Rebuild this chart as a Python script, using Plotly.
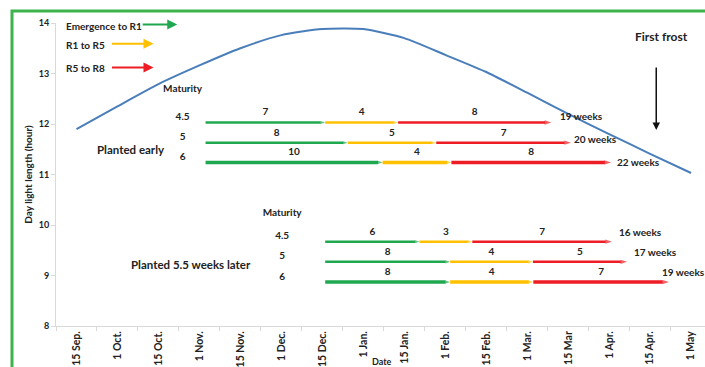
import plotly.graph_objects as go

# ---------------- data ----------------
dates = ["15 Sep.", "1 Oct.", "15 Oct.", "1 Nov.", "15 Nov.", "1 Dec.", "15 Dec.",
         "1 Jan.", "15 Jan.", "1 Feb.", "15 Feb.", "1 Mar.", "15 Mar", "1 Apr.",
         "15 Apr.", "1 May"]
day_length = [11.90, 12.35, 12.79, 13.16, 13.50, 13.76, 13.88, 13.88, 13.70,
              13.37, 13.03, 12.62, 12.20, 11.80, 11.41, 11.03]

maturity = ["4.5", "5", "6"]
stages = ["Emergence to R1", "R1 to R5", "R5 to R8"]

# stage boundaries on the date axis (category units, 0 = 15 Sep.)
early_row_y = [12.03, 11.63, 11.24]
early_bounds = [[3.15, 6.07, 7.85, 11.59],
                [3.15, 6.62, 8.78, 12.07],
                [3.15, 7.47, 9.15, 13.05]]
early_weeks = [[7, 4, 8], [8, 5, 7], [10, 4, 8]]
early_total = ["19 weeks", "20 weeks", "22 weeks"]

late_row_y = [9.67, 9.27, 8.87]
late_bounds = [[6.07, 8.37, 9.66, 13.07],
               [6.07, 9.12, 11.14, 13.44],
               [6.07, 9.12, 11.15, 14.46]]
late_weeks = [[6, 3, 7], [8, 4, 5], [8, 4, 7]]
late_total = ["16 weeks", "17 weeks", "19 weeks"]

# ---------------- style ----------------
FONT = "Lato, Liberation Sans Narrow, sans-serif"
stage_colors = ["#1fa84f", "#ffc000", "#ee1c24"]
row_widths = [2.5, 2.5, 3.5]
AXIS_GREY = "#d9d9d9"
TXT = "#222222"
# placement of the "N weeks" labels relative to the end of each row (x in categories, y in hours)
early_total_shift = [(0.17, 0.12), (0.03, 0.08), (0.10, 0.0)]
late_total_shift = [(0.12, 0.2), (0.12, 0.2), (-0.22, 0.2)]

fig = go.Figure()

fig.add_trace(go.Scatter(
    x=list(range(len(dates))), y=day_length, mode="lines",
    line=dict(color="#4a7ebb", width=2, shape="spline", smoothing=0.6),
    hoverinfo="skip", showlegend=False))

ann = []


def add_group(row_y, bounds, weeks, totals, shifts):
    for r, (yv, b) in enumerate(zip(row_y, bounds)):
        for s in range(3):
            fig.add_trace(go.Scatter(
                x=[b[s], b[s + 1]], y=[yv, yv], mode="lines+markers",
                line=dict(color=stage_colors[s], width=row_widths[r]),
                marker=dict(symbol="arrow", angleref="previous",
                            size=[0, 7 if s == 2 else 5], color=stage_colors[s],
                            line=dict(width=0)),
                hoverinfo="skip", showlegend=False))
        mids = [(b[s] + b[s + 1]) / 2 for s in range(3)]
        fig.add_trace(go.Scatter(
            x=mids, y=[yv + 0.19] * 3, mode="text",
            text=[str(w) for w in weeks[r]], textposition="middle center",
            textfont=dict(family=FONT, size=10, color=TXT, weight="bold"),
            hoverinfo="skip", showlegend=False))
        dx, dy = shifts[r]
        ann.append(dict(x=b[3] + dx, y=yv + dy, xref="x", yref="y", text=totals[r],
                        showarrow=False, xanchor="left",
                        font=dict(family=FONT, size=10, color=TXT, weight="bold")))


add_group(early_row_y, early_bounds, early_weeks, early_total, early_total_shift)
add_group(late_row_y, late_bounds, late_weeks, late_total, late_total_shift)

# maturity labels
fig.add_trace(go.Scatter(
    x=[2.59] * 4, y=[12.69] + [v + 0.1 for v in early_row_y], mode="text",
    text=["Maturity"] + maturity, textposition="middle center",
    textfont=dict(family=FONT, size=10, color=TXT, weight="bold"),
    hoverinfo="skip", showlegend=False))
fig.add_trace(go.Scatter(
    x=[5.02] * 4, y=[10.22] + [v + 0.1 for v in late_row_y], mode="text",
    text=["Maturity"] + maturity, textposition="middle center",
    textfont=dict(family=FONT, size=10, color=TXT, weight="bold"),
    hoverinfo="skip", showlegend=False))

# group titles
ann.append(dict(x=1.34, y=11.5, xref="x", yref="y", text="Planted early", showarrow=False,
                font=dict(family=FONT, size=11.5, color=TXT, weight="bold")))
ann.append(dict(x=2.8, y=9.21, xref="x", yref="y", text="Planted 5.5 weeks later", showarrow=False,
                font=dict(family=FONT, size=11.5, color=TXT, weight="bold")))
# legend
leg_y = [13.95, 13.57, 13.10]
leg_tail = [1.58, 0.83, 0.83]
leg_head = [2.46, 1.88, 1.88]
for i in range(3):
    ann.append(dict(x=-0.30, y=leg_y[i], xref="x", yref="y", text=stages[i], showarrow=False,
                    xanchor="left", font=dict(family=FONT, size=10, color=TXT, weight="bold")))
    ann.append(dict(x=leg_head[i], y=leg_y[i] + 0.02, ax=leg_tail[i], ay=leg_y[i] + 0.02,
                    xref="x", yref="y", axref="x", ayref="y", text="", showarrow=True,
                    arrowhead=2, arrowsize=1, arrowwidth=2, arrowcolor=stage_colors[i]))
# first frost
ann.append(dict(x=14.29, y=13.74, xref="x", yref="y", text="First frost", showarrow=False,
                font=dict(family=FONT, size=12, color=TXT, weight="bold")))
ann.append(dict(x=14.15, y=11.88, ax=14.15, ay=13.15, xref="x", yref="y", axref="x", ayref="y",
                text="", showarrow=True, arrowhead=2, arrowsize=1, arrowwidth=1.5,
                arrowcolor="#111111"))
# x title
ann.append(dict(x=7.46, y=-0.093, xref="x", yref="paper", text="Date", showarrow=False,
                yanchor="top", font=dict(family=FONT, size=9, color=TXT, weight="bold")))

fig.update_layout(
    width=705, height=367,
    margin=dict(l=56, r=0, t=23, b=41),
    paper_bgcolor="white", plot_bgcolor="white",
    annotations=ann,
    xaxis=dict(range=[-0.5, 15.34], tickvals=list(range(len(dates))), ticktext=dates,
               tickangle=-90, ticks="", showline=True, linecolor=AXIS_GREY, linewidth=1,
               showgrid=False, zeroline=False,
               tickfont=dict(family=FONT, size=10.5, color=TXT, weight="bold"),
               minor=dict(tickvals=[i + 0.5 for i in range(-1, len(dates))], ticks="outside",
                          ticklen=4, tickcolor=AXIS_GREY, showgrid=False)),
    yaxis=dict(range=[8, 14], tickvals=list(range(8, 15)), ticks="outside", ticklen=4,
               tickcolor=AXIS_GREY, showline=True, linecolor=AXIS_GREY, linewidth=1,
               showgrid=False, zeroline=False,
               tickfont=dict(family=FONT, size=9, color=TXT, weight="bold"),
               title=dict(text="Day light length (hour)", standoff=4,
                          font=dict(family=FONT, size=10, color=TXT, weight="bold"))),
    shapes=[dict(type="rect", xref="paper", yref="paper", x0=-0.0678, x1=1.2,
                 y0=-0.3, y1=1.0396, line=dict(color="#3cb44b", width=3),
                 fillcolor="rgba(0,0,0,0)", layer="above")],
)

fig.write_html("out.html", config={"displayModeBar": False},
               post_script="document.body.style.margin='0';document.body.style.overflow='hidden';")
